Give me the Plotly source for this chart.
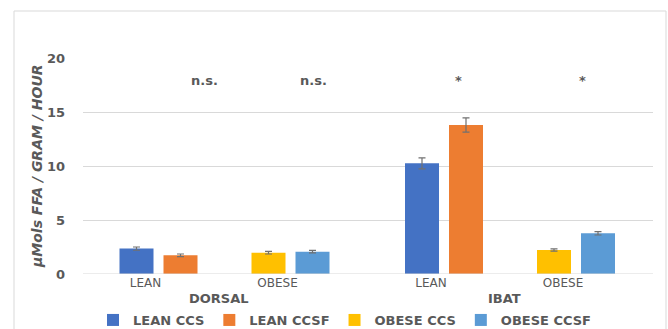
import plotly.graph_objects as go

# ---- data -------------------------------------------------------------
depots = ["DORSAL", "IBAT"]
groups = ["LEAN", "OBESE"]
series = ["LEAN CCS", "LEAN CCSF", "OBESE CCS", "OBESE CCSF"]
series_group = ["LEAN", "LEAN", "OBESE", "OBESE"]
# values per series, one per depot (DORSAL, IBAT)
values = {
    "LEAN CCS":   [2.35, 10.25],
    "LEAN CCSF":  [1.73, 13.8],
    "OBESE CCS":  [1.97, 2.22],
    "OBESE CCSF": [2.07, 3.77],
}
errors = {
    "LEAN CCS":   [0.15, 0.51],
    "LEAN CCSF":  [0.12, 0.66],
    "OBESE CCS":  [0.12, 0.10],
    "OBESE CCSF": [0.12, 0.16],
}
sig_labels = ["n.s.", "n.s.", "*", "*"]
y_ticks = [0, 5, 10, 15, 20]

colors = ["#4472C4", "#ED7D31", "#FFC000", "#5B9BD5"]
GRAY = "#595959"
GRID = "#D9D9D9"

# ---- layout geometry (x axis in plot-pixel units) ---------------------
PLOT_W = 570
PLOT_H = 216
FIRST = 75.5        # centre of first category pair
CAT_STEP = 132      # LEAN -> OBESE within a depot
DEPOT_STEP = 285.5  # DORSAL -> IBAT
PAIR_HALF = 22      # half distance between the two bars of a pair
BAR_W = 34
LABEL_SHIFT = -13   # category label offset from the pair centre
SIG_X = [121, 230, 375, 499]
SIG_Y = 17.9


def pair_center(d, g):
    return FIRST + d * DEPOT_STEP + g * CAT_STEP


fig = go.Figure()
for i, s in enumerate(series):
    g = groups.index(series_group[i])
    side = -1 if i % 2 == 0 else 1
    xs = [pair_center(d, g) + side * PAIR_HALF for d in range(len(depots))]
    fig.add_trace(go.Bar(
        x=xs, y=values[s], width=BAR_W, name=s,
        marker=dict(color=colors[i], line=dict(width=0)),
        error_y=dict(type="data", array=errors[s], color="#707070",
                     thickness=1.2, width=3.5),
    ))

tickvals, ticktext = [], []
for d in range(len(depots)):
    for g, name in enumerate(groups):
        tickvals.append(pair_center(d, g) + LABEL_SHIFT)
        ticktext.append(name)

annotations = []
for d, name in enumerate(depots):
    cx = (pair_center(d, 0) + pair_center(d, 1)) / 2 - 6
    annotations.append(dict(x=cx, y=-24 / PLOT_H, xref="x", yref="paper",
                            text=name, showarrow=False, yanchor="middle",
                            font=dict(family="DejaVu Sans", size=13,
                                      color=GRAY, weight="bold")))
for x, t in zip(SIG_X, sig_labels):
    annotations.append(dict(x=x, y=SIG_Y, xref="x", yref="y", text=t,
                            showarrow=False, yanchor="middle",
                            font=dict(family="DejaVu Sans", size=13,
                                      color=GRAY, weight="bold")))
annotations.append(dict(x=-46 / PLOT_W, y=0.5, xref="paper", yref="paper",
                        text="μMols FFA / GRAM / HOUR", textangle=-90,
                        showarrow=False, xanchor="center", yanchor="middle",
                        font=dict(family="DejaVu Sans", size=14, color=GRAY,
                                  weight="bold", style="italic")))

fig.update_layout(
    width=668, height=329,
    margin=dict(l=83, r=15, t=58, b=55, autoexpand=False),
    paper_bgcolor="white", plot_bgcolor="white",
    barmode="overlay",
    showlegend=True,
    legend=dict(orientation="h", x=(345 - 83) / PLOT_W, xanchor="center",
                y=-46 / PLOT_H, yanchor="middle", itemwidth=30,
                tracegroupgap=0,
                font=dict(family="DejaVu Sans", size=13, color=GRAY,
                          weight="bold"),
                traceorder="normal"),
    xaxis=dict(range=[0, PLOT_W], tickvals=tickvals, ticktext=ticktext,
               showgrid=False, zeroline=False, showline=False, ticks="",
               tickfont=dict(family="DejaVu Sans", size=12, color=GRAY)),
    yaxis=dict(range=[0, 20], tickvals=y_ticks, showgrid=True,
               gridcolor=GRID, gridwidth=1, zeroline=False, showline=False,
               ticks="", ticklabelstandoff=17,
               tickfont=dict(family="DejaVu Sans", size=13, color=GRAY,
                             weight="bold")),
    annotations=annotations,
    shapes=[dict(type="rect", xref="paper", yref="paper",
                 x0=-69 / PLOT_W, x1=583 / PLOT_W, y0=-0.4, y1=263 / PLOT_H,
                 line=dict(color=GRID, width=1), layer="below")],
)
fig.add_hline(y=0, line=dict(color=GRID, width=1))

fig.write_html("out.html")
